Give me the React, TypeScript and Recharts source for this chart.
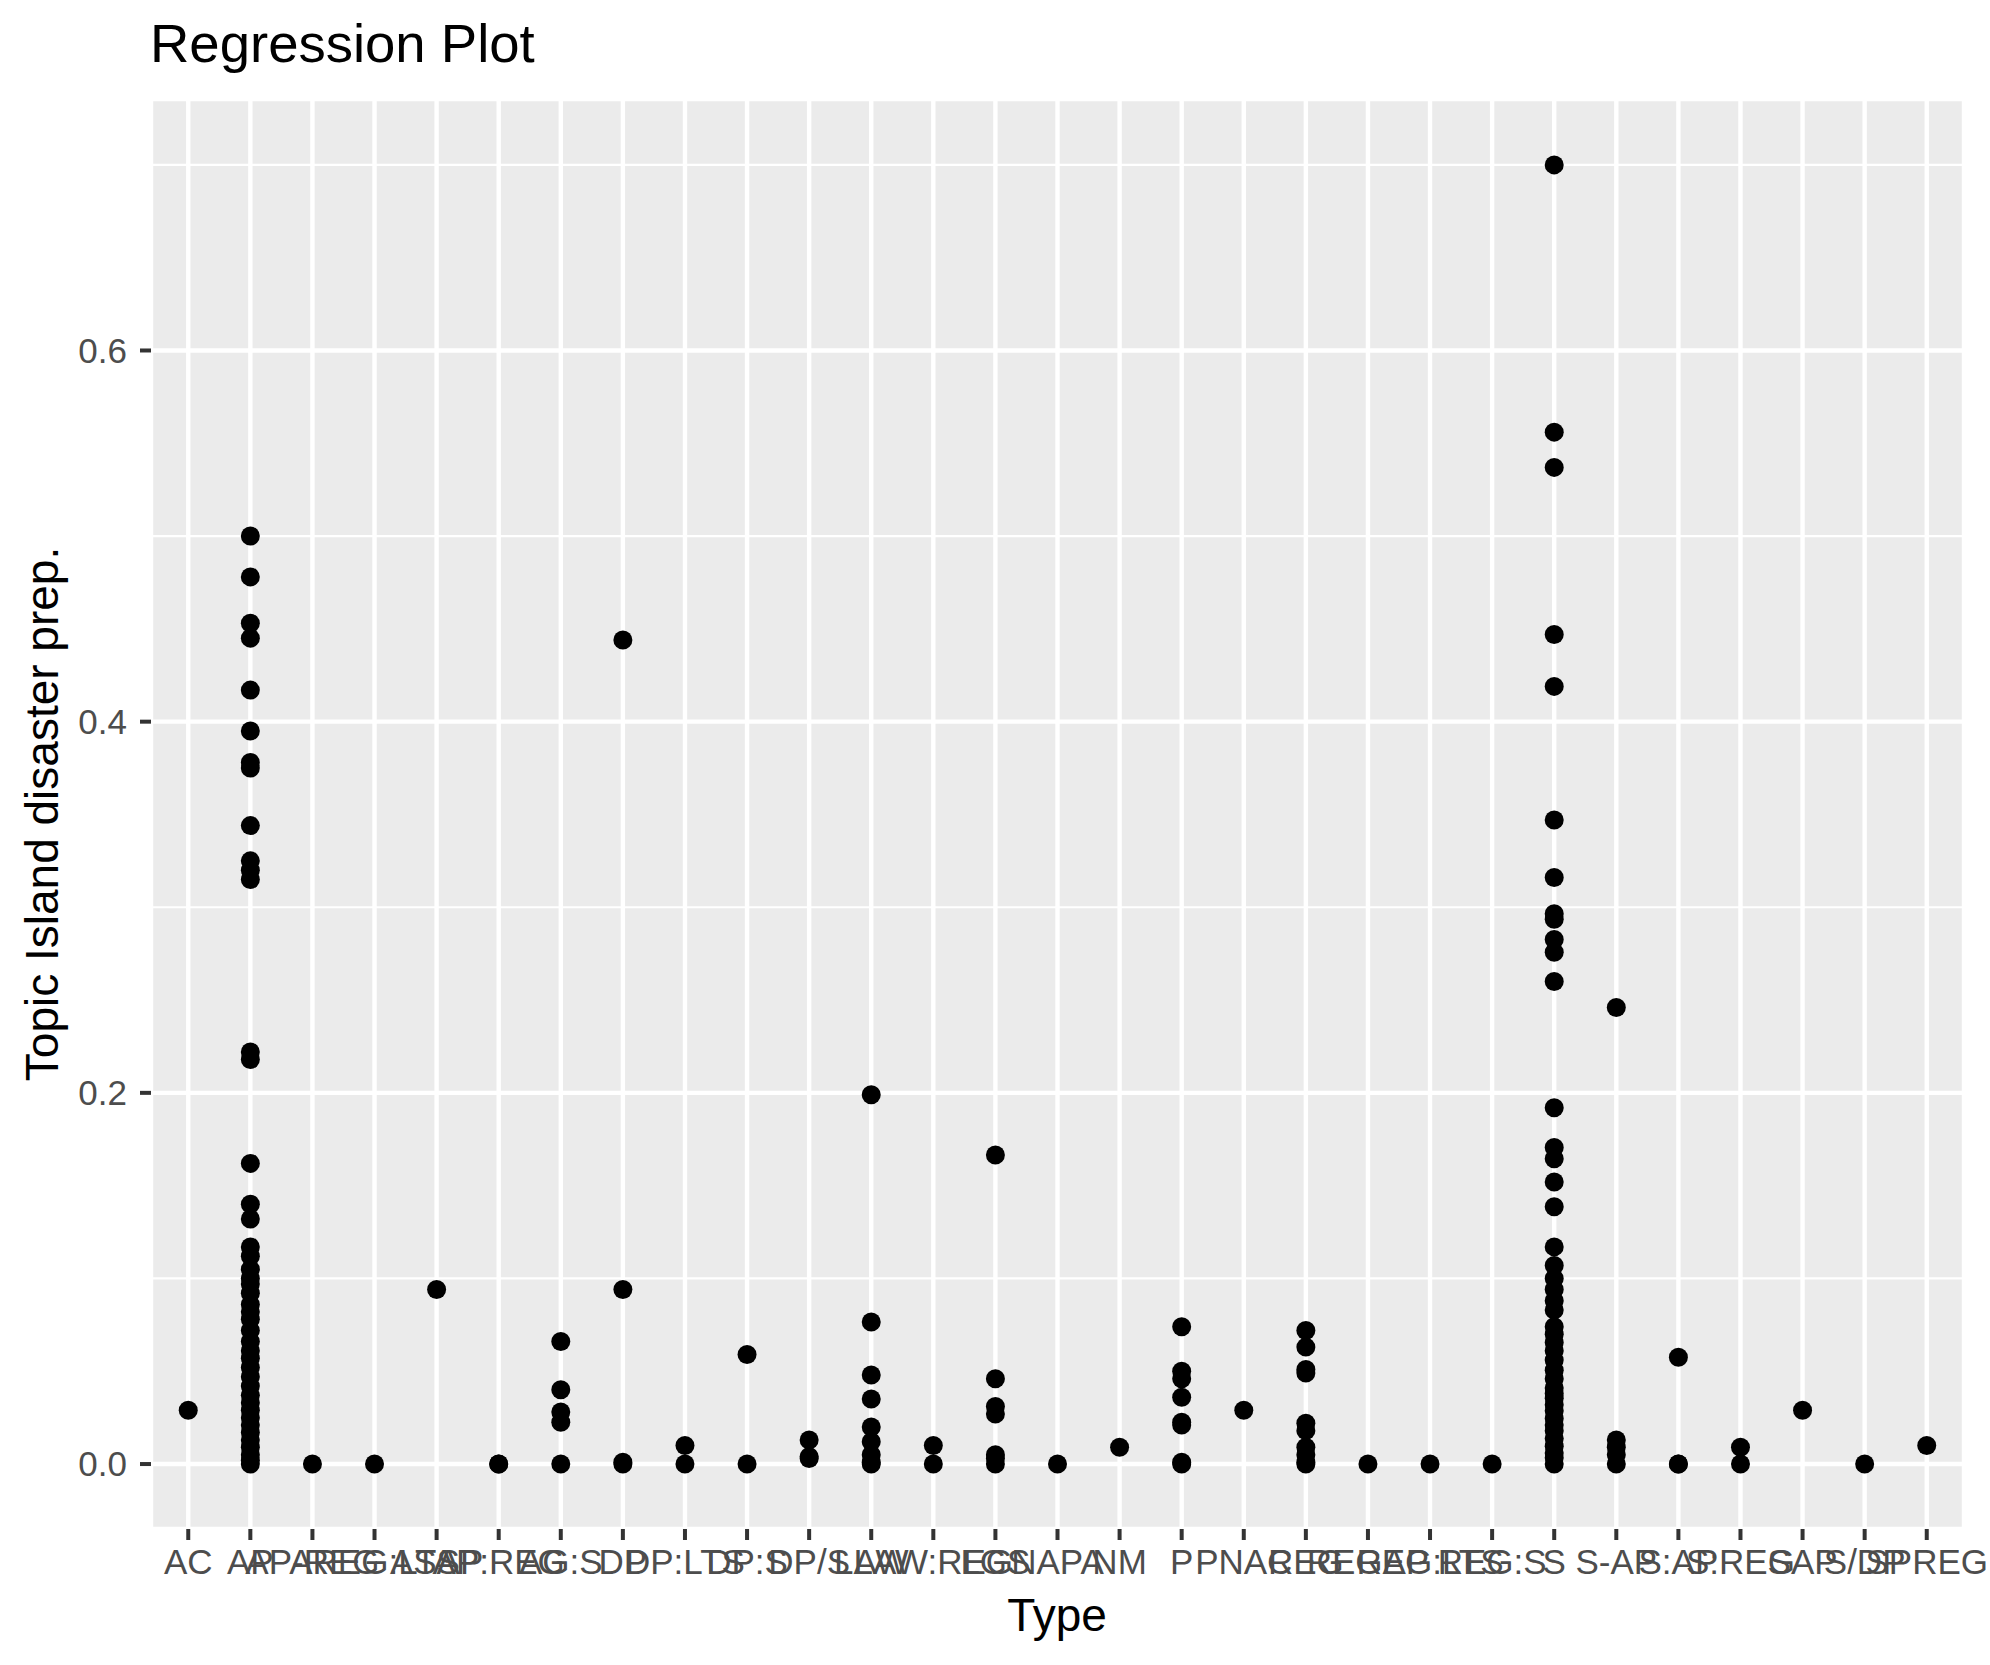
import React from 'react';
import { ScatterChart, Scatter, XAxis, YAxis, CartesianGrid } from 'recharts';

// Type categories, in the order ggplot put them on the x axis
const categories = [
  'AC', 'AP', 'AP-REG', 'AREG:LTS', 'ASAP', 'AP:REG', 'AG:S', 'DP', 'DP:LTS', 'DP:S',
  'DP/S', 'LAW', 'LAW:REG', 'LGS', 'NAPA', 'NM', 'P', 'PNAC', 'REG', 'REGAP',
  'REG:LTS', 'REG:S', 'S', 'S-AP', 'S:AP', 'S:REG', 'SAP', 'S/DP', 'SPREG',
];

// Topic Island disaster prep. values for each category (same order as above)
const typeValues: number[][] = [
  [0.029],
  [0.5, 0.478, 0.453, 0.445, 0.417, 0.395, 0.378, 0.375, 0.344, 0.325, 0.32, 0.315,
    0.222, 0.218, 0.162, 0.14, 0.132, 0.117, 0.112, 0.105, 0.1, 0.097, 0.092, 0.086,
    0.082, 0.078, 0.072, 0.066, 0.061, 0.057, 0.052, 0.047, 0.042, 0.037, 0.033, 0.029,
    0.025, 0.021, 0.017, 0.013, 0.009, 0.005, 0.002, 0],
  [0],
  [0],
  [0.094],
  [0, 0],
  [0.066, 0.04, 0.028, 0.0225, 0],
  [0.444, 0.094, 0.001, 0],
  [0.01, 0],
  [0.059, 0],
  [0.013, 0.004, 0.003],
  [0.199, 0.0765, 0.048, 0.035, 0.02, 0.012, 0.005, 0.001, 0],
  [0.01, 0],
  [0.1665, 0.046, 0.031, 0.027, 0.005, 0.003, 0],
  [0],
  [0.009],
  [0.074, 0.05, 0.046, 0.036, 0.0225, 0.021, 0.001, 0],
  [0.029],
  [0.072, 0.063, 0.051, 0.049, 0.022, 0.018, 0.009, 0.005, 0.001, 0],
  [0],
  [0],
  [0],
  [0.7, 0.556, 0.537, 0.447, 0.419, 0.347, 0.316, 0.2965, 0.2935, 0.2826, 0.2758, 0.26,
    0.192, 0.1706, 0.1645, 0.152, 0.1386, 0.117, 0.107, 0.1, 0.094, 0.088, 0.083, 0.074,
    0.07, 0.0655, 0.061, 0.056, 0.0505, 0.046, 0.041, 0.038, 0.0355, 0.032, 0.0287,
    0.0246, 0.021, 0.018, 0.0137, 0.0096, 0.006, 0.0034, 0],
  [0.246, 0.013, 0.009, 0.005, 0],
  [0.0575, 0, 0],
  [0.009, 0],
  [0.029],
  [0],
  [0.01],
];

const yTicks = [0, 0.2, 0.4, 0.6];
const yMinor = [0.1, 0.3, 0.5, 0.7];

const points = typeValues.flatMap((vals, i) => vals.map(v => ({ x: i, y: v })));
const xTicks = categories.map((_, i) => i);

const FONT = '"Liberation Sans", Arial, Helvetica, sans-serif';

const Dot = (props: any) => <circle cx={props.cx} cy={props.cy} r={9.5} fill="#000" />;

const App: React.FC = () => {
  return (
    <div style={{ position: 'absolute', left: 0, top: 0, width: 1990, height: 1665, background: '#fff', fontFamily: FONT }}>
      <div style={{ position: 'absolute', left: 150, top: 17, fontSize: 54.5, lineHeight: 1, color: '#000', whiteSpace: 'nowrap' }}>
        Regression Plot
      </div>
      <ScatterChart width={1990} height={1665} margin={{ top: 99, right: 26, bottom: 76, left: 51 }}>
        <CartesianGrid fill="#EBEBEB" stroke="#fff" strokeWidth={2.2} vertical={false} horizontalValues={yMinor} />
        <CartesianGrid stroke="#fff" strokeWidth={4.4} />
        <XAxis
          type="number"
          dataKey="x"
          domain={[-0.6, 28.6]}
          ticks={xTicks}
          interval={0}
          tickFormatter={(v: number) => categories[v] ?? ''}
          axisLine={false}
          tickSize={11}
          tickMargin={9}
          tickLine={{ stroke: '#333', strokeWidth: 4 }}
          tick={{ fill: '#4D4D4D', fontSize: 35, fontFamily: FONT }}
          height={60}
          allowDataOverflow
        />
        <YAxis
          type="number"
          dataKey="y"
          domain={[-0.035, 0.7355]}
          ticks={yTicks}
          interval={0}
          tickFormatter={(v: number) => v.toFixed(1)}
          axisLine={false}
          tickSize={11}
          tickMargin={13}
          tickLine={{ stroke: '#333', strokeWidth: 4 }}
          tick={{ fill: '#4D4D4D', fontSize: 35, fontFamily: FONT }}
          width={100}
          allowDataOverflow
        />
        <Scatter data={points} shape={Dot} isAnimationActive={false} />
      </ScatterChart>
      <div style={{ position: 'absolute', left: 1057, top: 1615, transform: 'translate(-50%, -50%)', fontSize: 46, lineHeight: 1, color: '#000', whiteSpace: 'nowrap' }}>
        Type
      </div>
      <div style={{ position: 'absolute', left: 42, top: 814, transform: 'translate(-50%, -50%) rotate(-90deg)', fontSize: 46, lineHeight: 1, color: '#000', whiteSpace: 'nowrap' }}>
        Topic Island disaster prep.
      </div>
    </div>
  );
};

export default App;
